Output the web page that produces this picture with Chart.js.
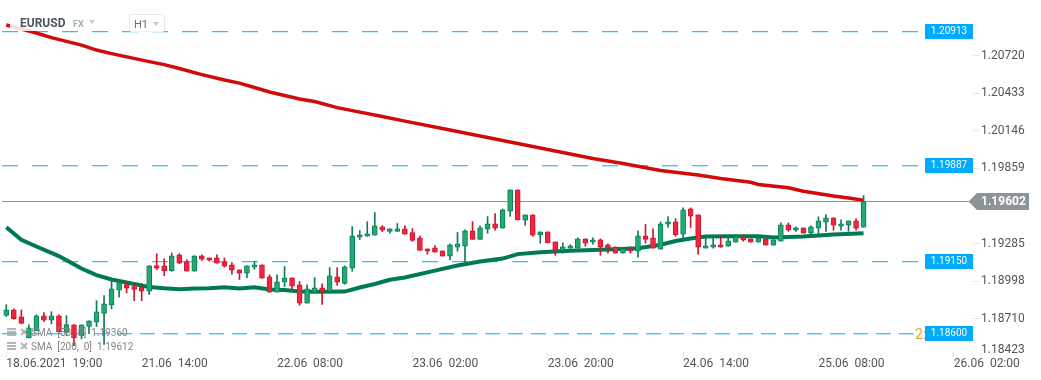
<!DOCTYPE html>
<html>
<head>
<meta charset="utf-8">
<style>
html,body{margin:0;padding:0;background:#fff;width:1041px;height:380px;overflow:hidden;font-family:Roboto,sans-serif}
#wrap{position:relative;width:1041px;height:380px}
canvas{position:absolute;left:0;top:0}
.ov{position:absolute;white-space:pre;line-height:1}
#hdr{position:absolute;left:10px;top:12px;width:155px;height:18.5px;background:rgba(255,255,255,.85)}
.tri{position:absolute;width:0;height:0;border-left:3.5px solid transparent;border-right:3.5px solid transparent;border-top:4px solid #c9c9c9}
svg{position:absolute}
</style>
</head>
<body>
<div id="wrap">
<canvas id="c" width="1041" height="380"></canvas>
<div id="hdr"></div>
<div class="ov" style="left:20px;top:17px;font-size:12px;font-weight:700;color:#4b5660">EURUSD</div>
<div class="ov" style="left:73px;top:20px;font-size:9px;font-weight:700;color:#9db0ba">FX</div>
<div class="tri" style="left:89px;top:20px"></div>
<div style="position:absolute;left:129px;top:14px;width:34px;height:16px;border:1px solid #e8e8e8;border-bottom-color:#f2f2f2;border-radius:3px"></div>
<div class="ov" style="left:134px;top:19px;font-size:11px;color:#6a7075">H1</div>
<div class="tri" style="left:153px;top:22px"></div>
<svg style="left:6px;top:327px" width="24" height="26" viewBox="0 0 24 26">
<g fill="#b5b5b5">
<rect x="1" y="1" width="9" height="2"/><rect x="1" y="4" width="9" height="2"/><rect x="1" y="7" width="9" height="2"/>
<rect x="1" y="15" width="9" height="2"/><rect x="1" y="18" width="9" height="2"/><rect x="1" y="21" width="9" height="2"/>
</g>
<g stroke="#b5b5b5" stroke-width="2"><path d="M15 2l6 6M21 2l-6 6M15 16l6 6M21 16l-6 6"/></g>
</svg>
<div class="ov" style="left:31px;top:328px;font-size:10px;color:#858585">SMA  [50,  0]  1.19360</div>
<div class="ov" style="left:31px;top:342px;font-size:10px;color:#858585">SMA  [200,  0]  1.19612</div>
</div>
<script src="https://cdn.jsdelivr.net/npm/chart.js@4"></script>
<script>
const opens=[1.18734,1.18775,1.18722,1.18561,1.18617,1.18730,1.18696,1.18730,1.18604,1.18661,
1.18579,1.18650,1.18681,1.18749,1.18814,1.18925,1.18969,1.18954,1.18948,1.18918,
1.19114,1.19111,1.19075,1.19195,1.19142,1.19070,1.19188,1.19172,1.19172,1.19142,
1.19119,1.19081,1.19055,1.19101,1.19119,1.19028,1.18910,1.18986,1.19020,1.18966,
1.18826,1.18910,1.18943,1.18918,1.19028,1.18978,1.19093,1.19330,1.19337,1.19345,
1.19409,1.19375,1.19375,1.19394,1.19366,1.19325,1.19241,1.19249,1.19226,1.19185,
1.19253,1.19261,1.19378,1.19314,1.19391,1.19432,1.19398,1.19528,1.19691,1.19459,
1.19501,1.19348,1.19371,1.19294,1.19230,1.19246,1.19246,1.19317,1.19292,1.19310,
1.19272,1.19256,1.19208,1.19241,1.19223,1.19340,1.19325,1.19238,1.19429,1.19447,
1.19353,1.19546,1.19501,1.19246,1.19253,1.19272,1.19261,1.19292,1.19333,1.19317,
1.19292,1.19317,1.19269,1.19299,1.19424,1.19383,1.19401,1.19360,1.19398,1.19444,
1.19478,1.19414,1.19421,1.19455,1.19406];
const closes=[1.18775,1.18709,1.18673,1.18638,1.18730,1.18696,1.18730,1.18607,1.18663,1.18561,
1.18661,1.18692,1.18760,1.18821,1.18936,1.18982,1.18941,1.18931,1.18918,1.19111,
1.19093,1.19075,1.19188,1.19131,1.19070,1.19188,1.19162,1.19154,1.19131,1.19108,
1.19078,1.19055,1.19111,1.19119,1.19017,1.18910,1.18989,1.19020,1.18956,1.18826,
1.18936,1.18943,1.18918,1.19035,1.18986,1.19104,1.19340,1.19348,1.19355,1.19417,
1.19383,1.19394,1.19394,1.19353,1.19306,1.19230,1.19223,1.19215,1.19185,1.19272,
1.19279,1.19378,1.19314,1.19401,1.19432,1.19398,1.19539,1.19691,1.19462,1.19501,
1.19345,1.19371,1.19287,1.19230,1.19256,1.19264,1.19317,1.19284,1.19310,1.19253,
1.19246,1.19208,1.19241,1.19223,1.19340,1.19314,1.19246,1.19432,1.19447,1.19348,
1.19539,1.19490,1.19253,1.19264,1.19272,1.19253,1.19302,1.19333,1.19307,1.19292,
1.19325,1.19269,1.19310,1.19424,1.19383,1.19401,1.19360,1.19409,1.19455,1.19478,
1.19421,1.19432,1.19455,1.19398,1.19602];
const highs=[1.18815,1.18783,1.18775,1.18661,1.18739,1.18755,1.18762,1.18737,1.18732,1.18663,
1.18661,1.18692,1.18846,1.18885,1.19004,1.19004,1.18986,1.18979,1.18976,1.19114,
1.19203,1.19165,1.19210,1.19205,1.19157,1.19188,1.19195,1.19172,1.19195,1.19172,
1.19137,1.19081,1.19111,1.19147,1.19119,1.19043,1.19043,1.19106,1.19020,1.18992,
1.18966,1.19022,1.18974,1.19098,1.19098,1.19111,1.19411,1.19381,1.19449,1.19518,
1.19419,1.19394,1.19434,1.19417,1.19396,1.19340,1.19241,1.19266,1.19226,1.19279,
1.19366,1.19386,1.19449,1.19417,1.19488,1.19510,1.19546,1.19691,1.19691,1.19501,
1.19501,1.19371,1.19371,1.19294,1.19287,1.19272,1.19325,1.19317,1.19325,1.19317,
1.19279,1.19256,1.19251,1.19256,1.19378,1.19427,1.19394,1.19447,1.19488,1.19472,
1.19554,1.19554,1.19501,1.19325,1.19335,1.19335,1.19330,1.19348,1.19348,1.19317,
1.19335,1.19317,1.19310,1.19439,1.19439,1.19409,1.19401,1.19417,1.19485,1.19503,
1.19478,1.19462,1.19455,1.19470,1.19648];
const lows=[1.18725,1.18704,1.18669,1.18561,1.18617,1.18686,1.18669,1.18602,1.18579,1.18503,
1.18554,1.18594,1.18648,1.18511,1.18783,1.18872,1.18905,1.18846,1.18846,1.18892,
1.19081,1.19037,1.19070,1.19129,1.19070,1.19070,1.19152,1.19147,1.19131,1.19101,
1.19047,1.19007,1.19022,1.19085,1.19017,1.18910,1.18910,1.18953,1.18936,1.18811,
1.18826,1.18905,1.18818,1.18915,1.18963,1.18971,1.19070,1.19312,1.19337,1.19345,
1.19373,1.19360,1.19375,1.19353,1.19299,1.19230,1.19200,1.19215,1.19185,1.19159,
1.19223,1.19121,1.19314,1.19314,1.19360,1.19383,1.19398,1.19488,1.19462,1.19421,
1.19337,1.19284,1.19287,1.19192,1.19208,1.19246,1.19246,1.19261,1.19276,1.19192,
1.19208,1.19208,1.19208,1.19208,1.19177,1.19284,1.19246,1.19238,1.19406,1.19337,
1.19312,1.19404,1.19200,1.19246,1.19246,1.19253,1.19261,1.19292,1.19299,1.19292,
1.19292,1.19269,1.19269,1.19299,1.19375,1.19375,1.19360,1.19348,1.19348,1.19375,
1.19383,1.19383,1.19375,1.19383,1.19406];

const sma50Bars=[0,2,4,7,10,12,14,17,19,21,23,25,27,29,31,33,35,37,39,42,45,47,49,51,53,57,60,63,66,68,71,75,80,84,87,89,91,93,96,100,102,106,110,114];
const sma50Values=[1.19406,1.19310,1.19259,1.19186,1.19091,1.19041,1.19007,1.18973,1.18950,1.18940,1.18933,1.18938,1.18940,1.18948,1.18938,1.18948,1.18931,1.18927,1.18915,1.18913,1.18915,1.18946,1.18973,1.19005,1.19022,1.19075,1.19114,1.19144,1.19167,1.19201,1.19215,1.19227,1.19237,1.19246,1.19272,1.19301,1.19320,1.19335,1.19337,1.19337,1.19327,1.19335,1.19350,1.19360];
const sma200Bars=[0,4,6,10,12,14,19,21,23,26,29,31,33,35,39,41,44,46,50,53,59,65,72,78,82,87,92,95,99,100,104,106,110,112,114];
const sma200Values=[1.20949,1.20888,1.20853,1.20796,1.20758,1.20731,1.20670,1.20647,1.20617,1.20571,1.20529,1.20506,1.20472,1.20438,1.20384,1.20365,1.20319,1.20296,1.20251,1.20216,1.20148,1.20079,1.19999,1.19930,1.19892,1.19839,1.19804,1.19778,1.19749,1.19732,1.19707,1.19681,1.19644,1.19629,1.19612];

const levelPrices=[1.20898,1.19875,1.19143,1.18593];
const levelLabels=['1.20913','1.19887','1.19150','1.18600'];
const lastPrice=1.19602;
const lastLabel='1.19602';
const yTickValues=[1.20716,1.20429,1.20142,1.19855,1.19281,1.18994,1.18706,1.18469];
const yTickLabels=['1.20720','1.20433','1.20146','1.19859','1.19285','1.18998','1.18710','1.18423'];
const xTickBars=[0,18,36,54,72,90,108,126];
const xTickLabels=['18.06.2021  19:00','21.06  14:00','22.06  08:00','23.06  02:00','23.06  20:00','24.06  14:00','25.06  08:00','26.06  02:00'];
const xStart=-0.838, xEnd=128.55, yMax=1.21140, yMin=1.18454;
const levelStart=-0.572, levelEnd=121.25, priceLineEnd=128.0;

const GREEN_FILL='#21ab73', GREEN_EDGE='#0e7d55', RED_FILL='#f3243d', RED_EDGE='#c9182f', BLUE='#00aeff';
const idx=opens.map((_,i)=>i);
const up=i=>closes[i]>=opens[i];
const pairs=(xs,ys)=>xs.map((x,i)=>({x,y:ys[i]}));
const levelDs=(p,i)=>({type:'line',data:[{x:levelStart,y:p},{x:levelEnd,y:p}],borderColor:BLUE,borderWidth:1,
  borderDash:i===3?[15,8]:[16,14],pointRadius:0,order:6});

const overlay={id:'overlay',afterDraw(ch){
  const c=ch.ctx,y=ch.scales.y;
  c.save();
  c.font='14px Roboto';c.fillStyle='#f5a033';c.textAlign='left';c.textBaseline='middle';
  c.fillText('2:',915,y.getPixelForValue(levelPrices[3])+1.5);
  levelPrices.forEach((p,i)=>{
    const py=y.getPixelForValue(p);
    c.fillStyle='#00aaff';c.fillRect(925,Math.round(py-7.5),48,15);
    c.fillStyle='#fff';c.font='10px Roboto';c.textAlign='center';c.textBaseline='middle';
    c.fillText(levelLabels[i],949,Math.round(py-7.5)+7.5);
  });
  const ly=y.getPixelForValue(lastPrice);
  c.fillStyle='#8b9599';c.beginPath();c.moveTo(968.5,ly);c.lineTo(977,ly-8.5);c.lineTo(1029,ly-8.5);c.lineTo(1029,ly+8.5);c.lineTo(977,ly+8.5);c.closePath();c.fill();
  c.fillStyle='#fff';c.font='bold 12px Roboto';c.textAlign='left';c.textBaseline='middle';
  c.fillText(lastLabel,981,ly+.5);
  c.restore();
}};

new Chart(document.getElementById('c'),{
  type:'bar',
  plugins:[overlay],
  data:{datasets:[
    {label:'wick',data:idx.map(i=>({x:i,y:[lows[i],highs[i]]})),grouped:false,barThickness:1,borderWidth:0,
     backgroundColor:idx.map(i=>up(i)?GREEN_EDGE:RED_EDGE),order:2},
    {label:'body',data:idx.map(i=>({x:i,y:[opens[i],closes[i]]})),grouped:false,barThickness:5,borderWidth:1,borderSkipped:false,
     backgroundColor:idx.map(i=>up(i)?GREEN_FILL:RED_FILL),borderColor:idx.map(i=>up(i)?GREEN_EDGE:RED_EDGE),order:1},
    {type:'line',label:'SMA 50',data:pairs(sma50Bars,sma50Values),borderColor:'#007a53',borderWidth:4,pointRadius:0,tension:0,order:3},
    {type:'line',label:'SMA 200',data:pairs(sma200Bars,sma200Values),borderColor:'#d40a0a',borderWidth:3.5,pointRadius:0,tension:0,order:3},
    {type:'line',label:'last',data:[{x:levelStart,y:lastPrice},{x:priceLineEnd,y:lastPrice}],borderColor:'#8b9599',borderWidth:1,pointRadius:0,order:5},
    ...levelPrices.map(levelDs)
  ]},
  options:{
    responsive:false,animation:false,devicePixelRatio:1,
    layout:{padding:0},
    plugins:{legend:{display:false},tooltip:{enabled:false}},
    scales:{
      x:{type:'linear',position:'bottom',min:xStart,max:xEnd,offset:false,
        afterBuildTicks(s){s.ticks=xTickBars.map(v=>({value:v}));},
        afterFit(s){s.height=28;},
        grid:{drawOnChartArea:false,offset:false,color:'#e6e6e6',tickLength:5},
        border:{display:false},
        ticks:{autoSkip:false,maxRotation:0,minRotation:0,align:'start',padding:0,color:'#555',font:{family:'Roboto',size:12},
          callback:(v,i)=>xTickLabels[i]}
      },
      y:{type:'linear',position:'right',min:yMin,max:yMax,
        afterBuildTicks(s){s.ticks=yTickValues.map(v=>({value:v}));},
        afterFit(s){s.width=68;s.paddingTop=0;s.paddingBottom=0;},
        grid:{drawOnChartArea:false,tickLength:6,color:c=>c.index===yTickValues.length-1?'rgba(0,0,0,0)':'#e6e6e6'},
        border:{display:false},
        ticks:{autoSkip:false,padding:2,color:'#555',font:{family:'Roboto',size:12},
          callback:(v,i)=>yTickLabels[i]}
      }
    }
  }
});
</script>
</body>
</html>
